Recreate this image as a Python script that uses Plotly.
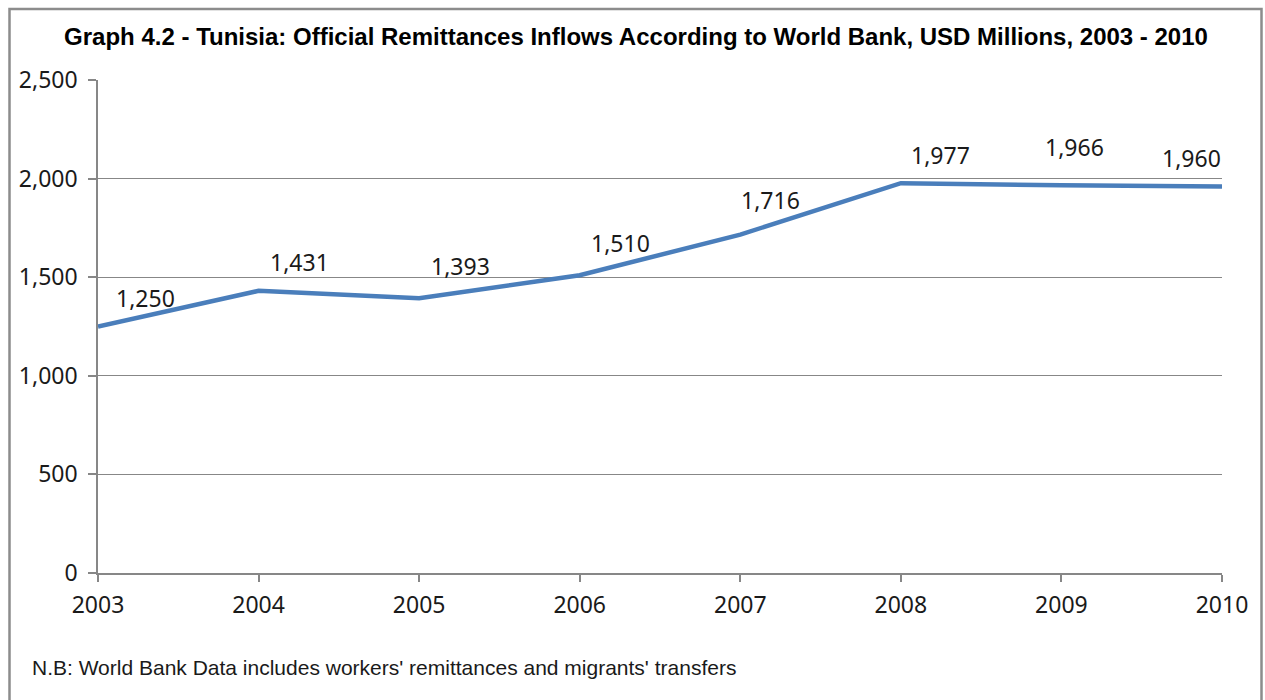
import plotly.graph_objects as go

years = [2003, 2004, 2005, 2006, 2007, 2008, 2009, 2010]
remittances = [1250, 1431, 1393, 1510, 1716, 1977, 1966, 1960]
y_ticks = [0, 500, 1000, 1500, 2000, 2500]
y_tick_labels = ["0", "500", "1,000", "1,500", "2,000", "2,500"]

title_text = "Graph 4.2 - Tunisia: Official Remittances Inflows According to World Bank, USD Millions, 2003 - 2010"
note_text = "N.B: World Bank Data includes workers' remittances and migrants' transfers"

# label placement offsets (pixels), styling only
label_dx = [47, 41, 41, 41, 30, 40, 13, -31]
label_dy = [29, 29, 32, 32, 35, 28, 38, 28]

LINE_COLOR = "#4A7EBB"
GRID = "#878787"
TXT = "#1a1a1a"
TICK_FONT = dict(family="Noto Sans", size=23, color=TXT)

fig = go.Figure()
fig.add_trace(go.Scatter(
    x=years, y=remittances, mode="lines",
    line=dict(color=LINE_COLOR, width=4.5),
    hoverinfo="x+y", showlegend=False,
))

for x, v, dx, dy in zip(years, remittances, label_dx, label_dy):
    fig.add_annotation(x=x, y=v, text=f"{v:,}", showarrow=False,
                       xshift=dx, yshift=dy, font=TICK_FONT)

fig.update_layout(
    width=1265, height=700,
    margin=dict(l=98, r=43, t=80, b=127),
    paper_bgcolor="white", plot_bgcolor="white",
    title=dict(text="<b>" + title_text + "</b>", x=(636 - 98) / 1124, xref="paper",
               y=1 - 37 / 700, yanchor="middle", xanchor="center",
               font=dict(family="Liberation Sans", size=24, color="black")),
    xaxis=dict(
        range=[2003, 2010], tickmode="array", tickvals=years,
        ticktext=[str(y) for y in years],
        showgrid=False, zeroline=False,
        showline=True, linecolor=GRID, linewidth=1.5,
        ticks="outside", ticklen=7, tickcolor=GRID, tickwidth=1.5,
        tickfont=TICK_FONT, ticklabelstandoff=4,
    ),
    yaxis=dict(
        range=[0, 2500], tickmode="array", tickvals=y_ticks,
        ticktext=y_tick_labels,
        showgrid=True, gridcolor=GRID, gridwidth=1,
        zeroline=False,
        showline=True, linecolor=GRID, linewidth=1.5,
        ticks="outside", ticklen=8, tickcolor=GRID, tickwidth=1.5,
        tickfont=TICK_FONT, ticklabelstandoff=6,
    ),
)

fig.add_annotation(text=note_text, xref="paper", yref="paper",
                   x=(30 - 98) / 1124, y=-(667 - 573) / 493,
                   xanchor="left", yanchor="middle", showarrow=False,
                   font=dict(family="Liberation Sans", size=21, color=TXT))

fig.add_shape(type="rect", xref="paper", yref="paper",
              x0=(9.5 - 98) / 1124, x1=(1261.5 - 98) / 1124,
              y0=-(710 - 573) / 493, y1=(573 - 9) / 493,
              line=dict(color="#8c8c8c", width=2.5), layer="below")

fig.write_html("out.html")
